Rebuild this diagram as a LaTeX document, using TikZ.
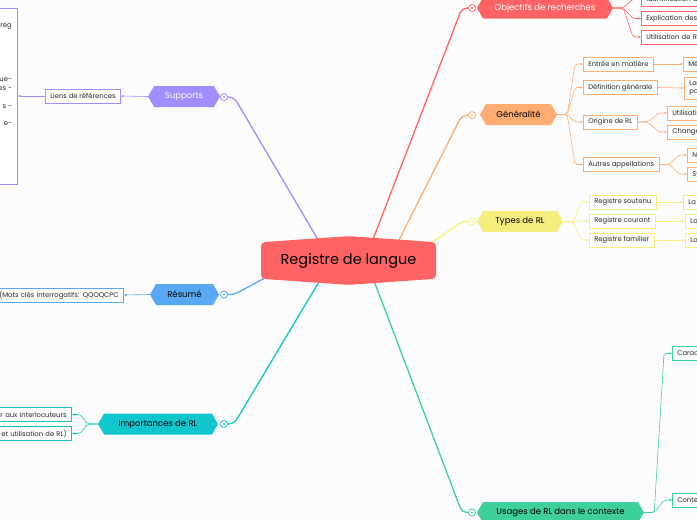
\documentclass[tikz,border=0pt]{standalone}
\usepackage{fontspec}
\setmainfont{Poppins}
\usetikzlibrary{shapes.symbols,arrows.meta,backgrounds}

\definecolor{rlred}{RGB}{255,99,99}
\definecolor{rlorange}{RGB}{255,172,115}
\definecolor{rlyellow}{RGB}{245,238,125}
\definecolor{rlgreen}{RGB}{62,207,155}
\definecolor{rlcyan}{RGB}{16,198,204}
\definecolor{rlblue}{RGB}{88,168,245}
\definecolor{rlpurple}{RGB}{158,142,255}
\definecolor{rlbg}{RGB}{252,252,252}

\begin{document}
\begin{tikzpicture}[x=1pt,y=-1pt,
    root/.style={signal, signal to=north and south, signal pointer angle=172, fill=rlred, rounded corners=4pt, minimum width=175pt, minimum height=46pt, inner sep=0pt, font=\fontsize{14.5}{17}\selectfont},
    topic/.style={signal, signal to=east and west, signal pointer angle=120, fill=#1, inner sep=0pt, minimum height=21pt, font=\fontsize{8.5}{10}\selectfont},
    leaf/.style={draw=#1, fill=white, line width=0.7pt, inner xsep=5pt, inner ysep=0pt, minimum height=14pt, text=black!85, font=\fontsize{6.8}{8.8}\selectfont},
    circ/.style={circle, draw=#1, fill=white, line width=0.8pt, minimum size=7pt, inner sep=0pt, path picture={\fill[#1] (path picture bounding box.center) circle (1.2pt);}},
    branch/.style={draw=#1, line width=1.3pt, rounded corners=5pt},
    sub/.style={draw=#1, line width=0.6pt, rounded corners=2pt, -{Latex[length=2.5pt,width=2.5pt]}}]

    \useasboundingbox (0,0) rectangle (697,520);
    \clip (0,0) rectangle (697,520);

    % centre
    \node[root] (root) at (348.5,260.5) {Registre de langue};

    % main topics
    \node[topic=rlred, text=white, minimum width=136pt] (obj) at (545,8) {Objectifs de recherches};
    \node[topic=rlorange, minimum width=77pt] (gen) at (518.5,114.5) {Généralité};
    \node[topic=rlyellow, minimum width=86pt] (typ) at (520,221.5) {Types de RL};
    \node[topic=rlgreen, minimum width=167pt] (usa) at (560.5,512.5) {Usages de RL dans le contexte};
    \node[topic=rlcyan, minimum width=120pt] (imp) at (158,424) {Importances de RL};
    \node[topic=rlblue, minimum width=69pt] (res) at (184.5,294.5) {Résumé};
    \node[topic=rlpurple, text=white, minimum width=72pt] (sup) at (184,96.5) {Supports};

    \node[circ=rlred] (obj-c) at (472,8) {};
    \node[circ=rlorange] (gen-c) at (472,115) {};
    \node[circ=rlyellow] (typ-c) at (472,221.5) {};
    \node[circ=rlgreen] (usa-c) at (472,512.5) {};
    \node[circ=rlcyan] (imp-c) at (224,424) {};
    \node[circ=rlblue] (res-c) at (224,294.5) {};
    \node[circ=rlpurple] (sup-c) at (224,97) {};

    % Objectifs de recherches
    \node[leaf=rlred, anchor=west, text width=60pt] (obj1) at (641,-1) {Identification d};
    \node[leaf=rlred, anchor=west, text width=60pt] (obj2) at (641,18.5) {Explication des};
    \node[leaf=rlred, anchor=west, text width=60pt] (obj3) at (641,37) {Utilisation de R};

    % Généralité
    \node[leaf=rlorange, anchor=west] (gen1) at (583,64) {Entrée en matière};
    \node[leaf=rlorange, anchor=west] (gen2) at (583,87.5) {Définition générale};
    \node[leaf=rlorange, anchor=west] (gen3) at (583,122) {Origine de RL};
    \node[leaf=rlorange, anchor=west] (gen4) at (583,164.5) {Autres appellations};
    \node[leaf=rlorange, anchor=west, text width=20pt] (gen1a) at (683,64) {Mé};
    \node[leaf=rlorange, anchor=west, text width=20pt, minimum height=22pt, align=left] (gen2a) at (684,88) {La\\po};
    \node[leaf=rlorange, anchor=west, text width=30pt] (gen3a) at (667,113) {Utilisati};
    \node[leaf=rlorange, anchor=west, text width=30pt] (gen3b) at (667,132) {Change};
    \node[leaf=rlorange, anchor=west, text width=20pt] (gen4a) at (687,155) {N};
    \node[leaf=rlorange, anchor=west, text width=20pt] (gen4b) at (687,174) {St};

    % Types de RL
    \node[leaf=rlyellow, anchor=west] (typ1) at (589,202) {Registre soutenu};
    \node[leaf=rlyellow, anchor=west] (typ2) at (589,221) {Registre courant};
    \node[leaf=rlyellow, anchor=west] (typ3) at (589,240) {Registre familier};
    \node[leaf=rlyellow, anchor=west, text width=20pt] (typ1a) at (683,202) {La};
    \node[leaf=rlyellow, anchor=west, text width=20pt] (typ2a) at (685,221) {La};
    \node[leaf=rlyellow, anchor=west, text width=20pt] (typ3a) at (685,240) {La};

    % Usages de RL dans le contexte
    \node[leaf=rlgreen, anchor=west, text width=30pt] (usa1) at (672,353.5) {Carac};
    \node[leaf=rlgreen, anchor=west, text width=30pt] (usa2) at (672,500) {Conte};

    % Importances de RL
    \node[leaf=rlcyan, anchor=east, text width=100pt, align=right] (imp1) at (72,414.5) {er aux interlocuteurs};
    \node[leaf=rlcyan, anchor=east, text width=100pt, align=right] (imp2) at (72,433.5) {et utilisation de RL)};

    % Résumé
    \node[leaf=rlblue, anchor=east, text width=125pt, align=right] (res1) at (124,295) {(Mots clés interrogatifs: QQOQCPC};

    % Supports
    \node[leaf=rlpurple, anchor=east] (sup1) at (121,96) {Liens de références};
    \node[leaf=rlpurple, anchor=north east, minimum width=80pt, minimum height=176pt] (refs) at (18,8) {};
    \node[anchor=north east, align=right, inner sep=0pt, text=black!85, font=\fontsize{6.8}{8.9}\selectfont] (refs-txt) at ([xshift=-6pt,yshift=-16pt]refs.north east) {reg\\ \\ \\ \\ \\ \\ ue-\\ es -\\ \\ s -\\ \\ e-};

    \begin{pgfonlayer}{background}
        \fill[rlbg] (0,0) rectangle (697,520);

        \draw[branch=rlpurple] ([xshift=-21.5pt,yshift=5.5pt]root.center) -- ([xshift=10pt]sup-c.center) -- (sup-c.center);
        \draw[branch=rlred] ([xshift=18.5pt,yshift=5.5pt]root.center) -- ([xshift=-10pt]obj-c.center) -- (obj-c.center);
        \draw[branch=rlorange] ([xshift=43pt,yshift=5.5pt]root.center) -- ([xshift=-10pt]gen-c.center) -- (gen-c.center);
        \draw[branch=rlyellow] ([xshift=71.5pt,yshift=9.5pt]root.center) -- ([xshift=-10pt]typ-c.center) -- (typ-c.center);
        \draw[branch=rlgreen] ([xshift=19.5pt,yshift=-4.5pt]root.center) -- ([xshift=-10pt]usa-c.center) -- (usa-c.center);
        \draw[branch=rlcyan] ([xshift=-19.5pt,yshift=-4.5pt]root.center) -- ([xshift=10pt]imp-c.center) -- (imp-c.center);
        \draw[branch=rlblue] ([xshift=-68.5pt,yshift=-9.5pt]root.center) -- ([xshift=10pt]res-c.center) -- (res-c.center);

        \draw[sub=rlred] (obj.east) -- ++(10,0) -- ([xshift=-8pt]obj1.west) -- (obj1.west);
        \draw[sub=rlred] (obj.east) -- ++(10,0) -- ([xshift=-8pt]obj2.west) -- (obj2.west);
        \draw[sub=rlred] (obj.east) -- ++(10,0) -- ([xshift=-8pt]obj3.west) -- (obj3.west);

        \draw[sub=rlorange] (gen.east) -- ++(10,0) -- ([xshift=-8pt]gen1.west) -- (gen1.west);
        \draw[sub=rlorange] (gen.east) -- ++(10,0) -- ([xshift=-8pt]gen2.west) -- (gen2.west);
        \draw[sub=rlorange] (gen.east) -- ++(10,0) -- ([xshift=-8pt]gen3.west) -- (gen3.west);
        \draw[sub=rlorange] (gen.east) -- ++(10,0) -- ([xshift=-8pt]gen4.west) -- (gen4.west);
        \draw[sub=rlorange] (gen1.east) -- (gen1a.west);
        \draw[sub=rlorange] (gen2.east) -- (gen2a.west);
        \draw[sub=rlorange] (gen3.east) -- ++(10,0) -- ([xshift=-8pt]gen3a.west) -- (gen3a.west);
        \draw[sub=rlorange] (gen3.east) -- ++(10,0) -- ([xshift=-8pt]gen3b.west) -- (gen3b.west);
        \draw[sub=rlorange] (gen4.east) -- ++(10,0) -- ([xshift=-8pt]gen4a.west) -- (gen4a.west);
        \draw[sub=rlorange] (gen4.east) -- ++(10,0) -- ([xshift=-8pt]gen4b.west) -- (gen4b.west);

        \draw[sub=rlyellow] (typ.east) -- ++(10,0) -- ([xshift=-8pt]typ1.west) -- (typ1.west);
        \draw[sub=rlyellow] (typ.east) -- ++(10,0) -- ([xshift=-8pt]typ2.west) -- (typ2.west);
        \draw[sub=rlyellow] (typ.east) -- ++(10,0) -- ([xshift=-8pt]typ3.west) -- (typ3.west);
        \draw[sub=rlyellow] (typ1.east) -- (typ1a.west);
        \draw[sub=rlyellow] (typ2.east) -- (typ2a.west);
        \draw[sub=rlyellow] (typ3.east) -- (typ3a.west);

        \draw[sub=rlgreen] (usa.east) -- ++(10,0) -- ([xshift=-8pt]usa1.west) -- (usa1.west);
        \draw[sub=rlgreen] (usa.east) -- ++(10,0) -- ([xshift=-8pt]usa2.west) -- (usa2.west);

        \draw[sub=rlcyan] (imp.west) -- ++(-10,0) -- ([xshift=8pt]imp1.east) -- (imp1.east);
        \draw[sub=rlcyan] (imp.west) -- ++(-10,0) -- ([xshift=8pt]imp2.east) -- (imp2.east);

        \draw[sub=rlblue] (res.west) -- (res1.east);

        \draw[sub=rlpurple] (sup.west) -- (sup1.east);
        \draw[sub=rlpurple] (sup1.west) -- (refs.east |- sup1.west);
    \end{pgfonlayer}
\end{tikzpicture}
\end{document}
